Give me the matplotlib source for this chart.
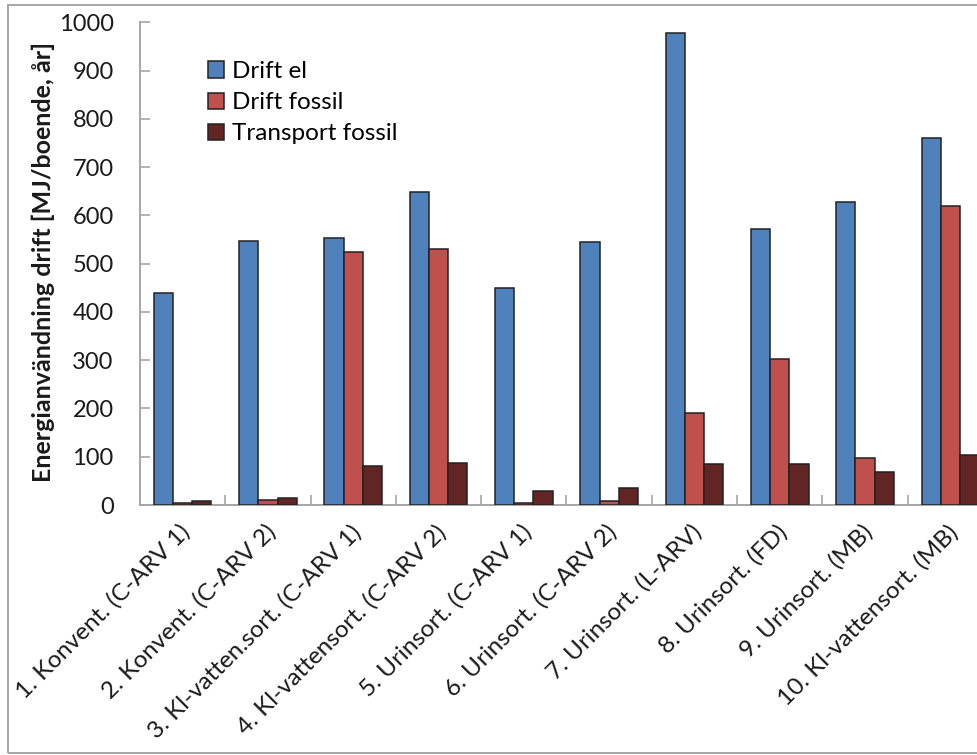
import matplotlib
matplotlib.use("Agg")
import matplotlib.pyplot as plt
import matplotlib.transforms as mtransforms
from matplotlib.patches import Rectangle
import numpy as np

plt.rcParams['font.family'] = ['Lato', 'DejaVu Sans']

categories = [
    "1. Konvent. (C-ARV 1)",
    "2. Konvent. (C-ARV 2)",
    "3. Kl-vatten.sort. (C-ARV 1)",
    "4. Kl-vattensort. (C-ARV 2)",
    "5. Urinsort. (C-ARV 1)",
    "6. Urinsort. (C-ARV 2)",
    "7. Urinsort. (L-ARV)",
    "8. Urinsort. (FD)",
    "9. Urinsort. (MB)",
    "10. Kl-vattensort. (MB)",
]
drift_el = [440, 546, 554, 648, 450, 545, 977, 572, 628, 761]
drift_fossil = [5, 10, 524, 530, 5, 9, 190, 302, 98, 620]
transport_fossil = [9, 15, 80, 87, 29, 36, 85, 84, 69, 104]

series_names = ["Drift el", "Drift fossil", "Transport fossil"]
series_colors = ["#4F81BD", "#C0504D", "#632523"]
yticks = [0, 100, 200, 300, 400, 500, 600, 700, 800, 900, 1000]

W, H = 978, 755
fig = plt.figure(figsize=(W / 100, H / 100), dpi=100)

# outer frame of the chart area
fig.patches.append(Rectangle((8 / W, 1 - 753 / H), 1.2, (753 - 5) / H,
                             transform=fig.transFigure, fill=False,
                             edgecolor="#a6a6a6", linewidth=1.4))

ax = fig.add_axes([140 / W, 1 - 505 / H, 853 / W, (505 - 22.3) / H])

x = np.arange(len(categories))
bw = 0.225
for i, (vals, name, col) in enumerate(zip([drift_el, drift_fossil, transport_fossil],
                                          series_names, series_colors)):
    ax.bar(x + (i - 1) * bw, vals, width=bw, color=col, edgecolor="#222222",
           linewidth=1.1, label=name, zorder=3)

ax.set_xlim(-0.5, len(categories) - 0.5)
ax.set_ylim(0, 1000)
ax.set_yticks(yticks)
ax.set_yticklabels([str(v) for v in yticks], fontsize=17, color="#1a1a1a")

ax.set_xticks(x)
ax.set_xticklabels(categories, rotation=45, ha="right", va="center",
                   rotation_mode="anchor", fontsize=17.5, color="#1a1a1a")
ax.set_xticks(np.arange(0.5, len(categories) - 0.5, 1), minor=True)
ax.tick_params(axis="x", which="major", length=0, pad=17)
ax.tick_params(axis="x", which="minor", direction="in", length=7,
               color="#a6a6a6", width=1.2)
ax.tick_params(axis="y", direction="in", length=7, color="#a6a6a6",
               width=1.2, pad=19)

offset = mtransforms.ScaledTranslation(4 / 100, 0, fig.dpi_scale_trans)
for lbl in ax.get_xticklabels():
    lbl.set_transform(lbl.get_transform() + offset)

for side in ["top", "right"]:
    ax.spines[side].set_visible(False)
for side in ["left", "bottom"]:
    ax.spines[side].set_color("#a6a6a6")
    ax.spines[side].set_linewidth(1.4)

fig.text(43 / W, 1 - 262 / H, "Energianvändning drift [MJ/boende, år]",
         rotation=90, ha="center", va="center", fontsize=18,
         fontweight="bold", color="#1a1a1a")

leg = ax.legend(loc="upper left", bbox_to_anchor=(58 / 853, 1 - 29 / 482.7),
                frameon=False, fontsize=17.5, handlelength=0.65,
                handleheight=0.65, handletextpad=0.35, labelspacing=0.42,
                borderaxespad=0)

fig.savefig("out.png", dpi=100)
